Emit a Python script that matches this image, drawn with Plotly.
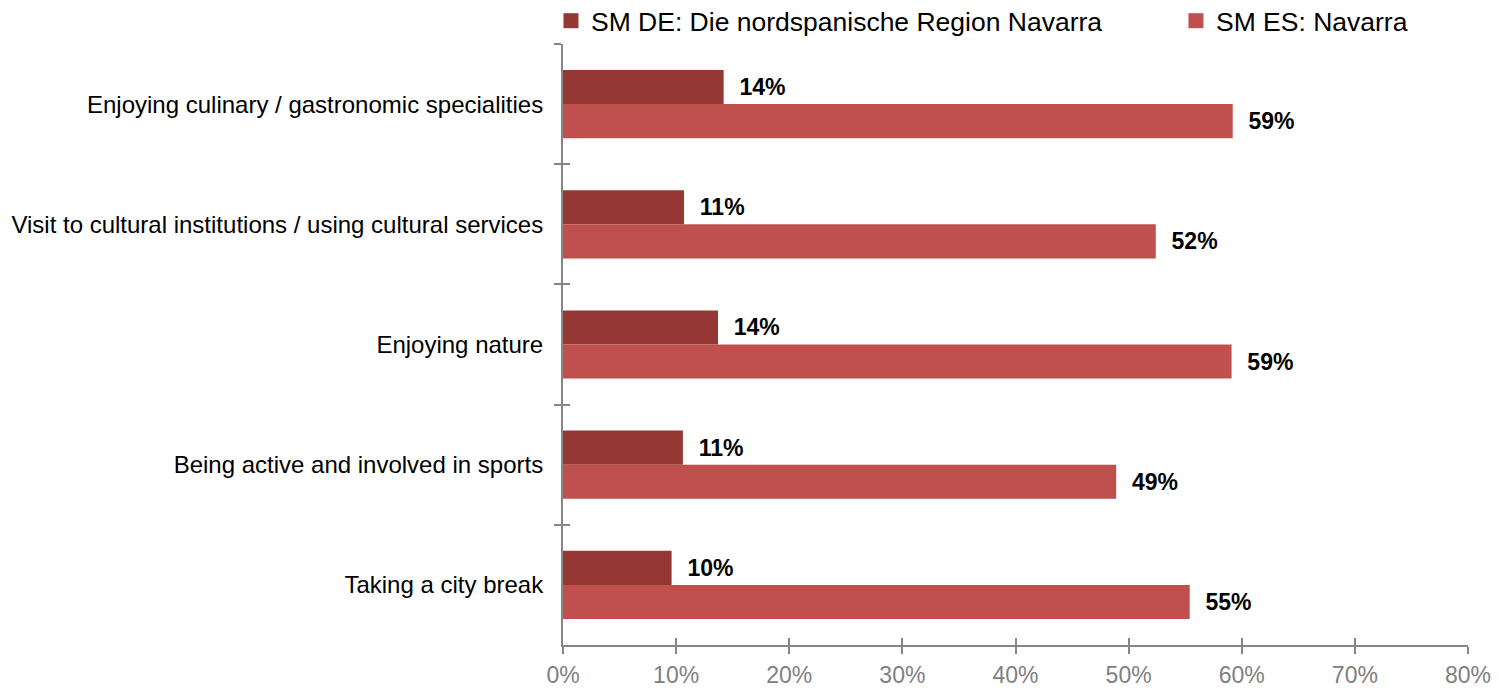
import plotly.graph_objects as go

# Activities (top to bottom)
categories = [
    "Enjoying culinary / gastronomic specialities",
    "Visit to cultural institutions / using cultural services",
    "Enjoying nature",
    "Being active and involved in sports",
    "Taking a city break",
]

series_names = ["SM DE: Die nordspanische Region Navarra", "SM ES: Navarra"]

# Share of respondents, in percent
de_values = [14.2, 10.7, 13.7, 10.6, 9.6]
es_values = [59.2, 52.4, 59.1, 48.9, 55.4]

x_ticks = [0, 10, 20, 30, 40, 50, 60, 70, 80]
x_tick_labels = ["0%", "10%", "20%", "30%", "40%", "50%", "60%", "70%", "80%"]

colors = ["#953735", "#C0504D"]
axis_grey = "#868686"
font_family = "Liberation Sans, Arial, sans-serif"

fig = go.Figure()

for name, vals, col in zip(series_names, [de_values, es_values], colors):
    fig.add_trace(go.Bar(
        y=categories,
        x=vals,
        orientation="h",
        name=name,
        marker=dict(color=col, line=dict(width=0)),
        texttemplate="\u00a0\u00a0%{x:.0f}%",
        textposition="outside",
        constraintext="none",
        cliponaxis=False,
        textfont=dict(family=font_family, size=23, color="#000000", weight="bold"),
        showlegend=False,
        hoverinfo="skip",
    ))

# Legend entries with square swatches, one legend box per series
for i, (name, col) in enumerate(zip(series_names, colors)):
    fig.add_trace(go.Scatter(
        x=[None], y=[None],
        mode="markers",
        name=name,
        marker=dict(symbol="square", size=15, color=col),
        xaxis="x2", yaxis="y2",
        showlegend=True,
        legend="legend" if i == 0 else "legend2",
    ))

boundaries = [i - 0.5 for i in range(len(categories) + 1)]

legend_style = dict(
    orientation="h",
    xanchor="left",
    y=1.0383,
    yanchor="middle",
    font=dict(size=26.5, color="#000000"),
    bgcolor="rgba(0,0,0,0)",
    borderwidth=0,
)

fig.update_layout(
    width=1499,
    height=688,
    margin=dict(l=563, r=31, t=44, b=43, pad=0, autoexpand=False),
    paper_bgcolor="white",
    plot_bgcolor="white",
    barmode="group",
    bargap=0.433,
    bargroupgap=0,
    font=dict(family=font_family, color="#000000"),
    xaxis=dict(
        range=[0, 80],
        tickvals=x_ticks,
        ticktext=x_tick_labels,
        ticks="outside",
        ticklen=7,
        tickwidth=2,
        tickcolor=axis_grey,
        showline=True,
        linecolor=axis_grey,
        linewidth=2,
        showgrid=False,
        zeroline=False,
        automargin=False,
        tickfont=dict(size=23, color="#808080"),
        ticklabelstandoff=1,
    ),
    yaxis=dict(
        type="category",
        categoryorder="array",
        categoryarray=categories,
        range=[len(categories) - 0.5, -0.5],
        tickson="boundaries",
        ticks="outside",
        ticklen=7,
        tickwidth=2,
        tickcolor=axis_grey,
        showline=True,
        linecolor=axis_grey,
        linewidth=2,
        showgrid=False,
        zeroline=False,
        automargin=False,
        tickfont=dict(size=24, color="#000000"),
        ticklabelstandoff=13,
    ),
    # inner halves of the crossing tick marks
    xaxis2=dict(
        overlaying="x",
        anchor="y2",
        side="bottom",
        range=[0, 80],
        tickvals=x_ticks,
        ticks="inside",
        ticklen=7,
        tickwidth=2,
        tickcolor=axis_grey,
        showticklabels=False,
        showline=False,
        showgrid=False,
        zeroline=False,
        automargin=False,
    ),
    yaxis2=dict(
        overlaying="y",
        anchor="x2",
        side="left",
        range=[len(categories) - 0.5, -0.5],
        tickvals=boundaries,
        ticks="inside",
        ticklen=7,
        tickwidth=2,
        tickcolor=axis_grey,
        showticklabels=False,
        showline=False,
        showgrid=False,
        zeroline=False,
        automargin=False,
    ),
    legend=dict(legend_style, x=-0.0133),
    legend2=dict(legend_style, x=0.6773),
)

fig.write_html("out.html")
